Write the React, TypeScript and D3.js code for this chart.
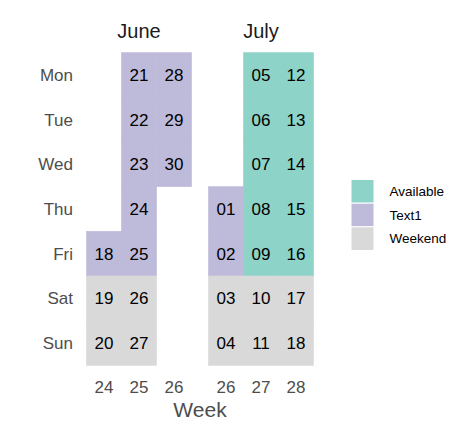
import * as d3 from "d3";

const dayNames = ["Mon", "Tue", "Wed", "Thu", "Fri", "Sat", "Sun"];
const monthNames = ["June", "July"];
const juneWeeks = [24, 25, 26];
const julyWeeks = [26, 27, 28];

// one entry per day: date label, iso week, weekday, status
const juneDates = ["18", "19", "20", "21", "22", "23", "24", "25", "26", "27", "28", "29", "30"];
const juneWeekOf = [24, 24, 24, 25, 25, 25, 25, 25, 25, 25, 26, 26, 26];
const juneDayOf = ["Fri", "Sat", "Sun", "Mon", "Tue", "Wed", "Thu", "Fri", "Sat", "Sun", "Mon", "Tue", "Wed"];
const juneStatus = ["Text1", "Weekend", "Weekend", "Text1", "Text1", "Text1", "Text1", "Text1", "Weekend", "Weekend", "Text1", "Text1", "Text1"];

const julyDates = ["01", "02", "03", "04", "05", "06", "07", "08", "09", "10", "11", "12", "13", "14", "15", "16", "17", "18"];
const julyWeekOf = [26, 26, 26, 26, 27, 27, 27, 27, 27, 27, 27, 28, 28, 28, 28, 28, 28, 28];
const julyDayOf = ["Thu", "Fri", "Sat", "Sun", "Mon", "Tue", "Wed", "Thu", "Fri", "Sat", "Sun", "Mon", "Tue", "Wed", "Thu", "Fri", "Sat", "Sun"];
const julyStatus = ["Text1", "Text1", "Weekend", "Weekend", "Available", "Available", "Available", "Available", "Available", "Weekend", "Weekend", "Available", "Available", "Available", "Available", "Available", "Weekend", "Weekend"];

const legendKeys = ["Available", "Text1", "Weekend"];
const legendColors = ["#8DD3C7", "#BEBADA", "#D9D9D9"];

const W = 472;
const H = 433;
const font = "'Liberation Sans', Arial, sans-serif";

const App = () => {
  const top = 52.7;
  const bottom = 365.3;
  const panelW = 105;
  const panelLefts = [86.5, 208.5];

  const y = d3.scaleBand<string>().domain(dayNames).range([top, bottom]);
  const fill = d3.scaleOrdinal<string, string>().domain(legendKeys).range(legendColors);

  const panels = [
    { name: monthNames[0], weeks: juneWeeks, dates: juneDates, wk: juneWeekOf, dy: juneDayOf, st: juneStatus },
    { name: monthNames[1], weeks: julyWeeks, dates: julyDates, wk: julyWeekOf, dy: julyDayOf, st: julyStatus },
  ];

  const legendY = d3.scaleBand<string>().domain(legendKeys).range([179.5, 250.5]);

  return (
    <svg width={W} height={H} style={{ position: "absolute", left: 0, top: 0, fontFamily: font }}>
      <rect width={W} height={H} fill="#fff" />
      {dayNames.map((d) => (
        <text key={d} x={73} y={y(d)! + y.bandwidth() / 2} dy="0.36em" textAnchor="end" fontSize={17} fill="#4D4D4D">
          {d}
        </text>
      ))}
      {panels.map((p, pi) => {
        const x = d3.scaleBand<number>().domain(p.weeks).range([panelLefts[pi], panelLefts[pi] + panelW]);
        return (
          <g key={p.name}>
            <text x={panelLefts[pi] + panelW / 2} y={38} textAnchor="middle" fontSize={20} fill="#1A1A1A">
              {p.name}
            </text>
            {p.dates.map((d, i) => (
              <rect
                key={"r" + d}
                x={x(p.wk[i])}
                y={y(p.dy[i])}
                width={x.bandwidth()}
                height={y.bandwidth()}
                fill={fill(p.st[i])}
                stroke={fill(p.st[i])}
                strokeWidth={0.6}
              />
            ))}
            {p.dates.map((d, i) => (
              <text
                key={"t" + d}
                x={x(p.wk[i])! + x.bandwidth() / 2}
                y={y(p.dy[i])! + y.bandwidth() / 2}
                dy="0.36em"
                textAnchor="middle"
                fontSize={17}
                fill="#000"
              >
                {d}
              </text>
            ))}
            {p.weeks.map((w) => (
              <text key={"w" + w} x={x(w)! + x.bandwidth() / 2} y={393} textAnchor="middle" fontSize={17} fill="#4D4D4D">
                {w}
              </text>
            ))}
          </g>
        );
      })}
      <text x={200} y={417} textAnchor="middle" fontSize={21} fill="#4D4D4D">
        Week
      </text>
      {legendKeys.map((k, i) => (
        <g key={k}>
          <rect x={351} y={legendY(k)} width={23} height={legendY.bandwidth()} fill={legendColors[i]} stroke="#fff" strokeWidth={1} />
          <text x={389.5} y={legendY(k)! + legendY.bandwidth() / 2} dy="0.35em" fontSize={13.5} fill="#000">
            {k}
          </text>
        </g>
      ))}
    </svg>
  );
};

export default App;
